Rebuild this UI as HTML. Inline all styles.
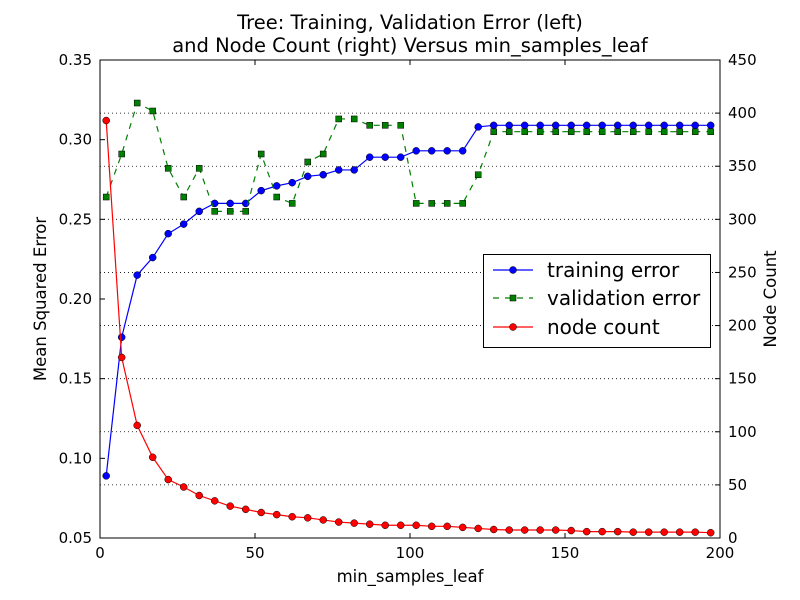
<!DOCTYPE html>
<html><head><meta charset="utf-8"><style>
body{margin:0;background:#fff}
svg{display:block;font-family:"DejaVu Sans","Liberation Sans",sans-serif}
</style></head><body>
<svg id="chart" width="800" height="600">
<rect width="800" height="600" fill="#fff"/>
<g id="grid"></g><g id="series"></g><g id="axes"></g>
</svg>
<script>
const xs = [2,7,12,17,22,27,32,37,42,47,52,57,62,67,72,77,82,87,92,97,102,107,112,117,122,127,132,137,142,147,152,157,162,167,172,177,182,187,192,197];
const trainErr = [0.089,0.176,0.215,0.226,0.241,0.247,0.255,0.260,0.260,0.260,0.268,0.271,0.273,0.277,0.278,0.281,0.281,0.289,0.289,0.289,0.293,0.293,0.293,0.293,0.308,0.309,0.309,0.309,0.309,0.309,0.309,0.309,0.309,0.309,0.309,0.309,0.309,0.309,0.309,0.309];
const valErr = [0.264,0.291,0.323,0.318,0.282,0.264,0.282,0.255,0.255,0.255,0.291,0.264,0.260,0.286,0.291,0.313,0.313,0.309,0.309,0.309,0.260,0.260,0.260,0.260,0.278,0.305,0.305,0.305,0.305,0.305,0.305,0.305,0.305,0.305,0.305,0.305,0.305,0.305,0.305,0.305];
const nodeCount = [393,170,106,76,55,48,40,35,30,27,24,22,20,19,17,15,14,13,12,12,12,11,11,10,9,8,7.5,7.5,7.5,7.5,7,6,6,6,5.5,5.5,5.5,5.5,5.5,5];
const xTicks = [0,50,100,150,200];
const yLeftTicks = [0.05,0.10,0.15,0.20,0.25,0.30,0.35];
const yRightTicks = [0,50,100,150,200,250,300,350,400,450];

const L=100,R=720,T=60,B=538;
const sx=v=>L+(v-0)/200*(R-L);
const syL=v=>B-(v-0.05)/0.3*(B-T);
const syR=v=>B-v/450*(B-T);
const NS="http://www.w3.org/2000/svg";
function mk(parent,tag,attrs,text){const e=document.createElementNS(NS,tag);for(const k in attrs)e.setAttribute(k,attrs[k]);if(text!==undefined)e.textContent=text;parent.appendChild(e);return e;}
const grid=document.getElementById('grid'),series=document.getElementById('series'),axes=document.getElementById('axes');

yRightTicks.forEach(t=>{if(t===0||t===450)return;const l=mk(grid,'line',{x1:L,x2:R,y1:syR(t),y2:syR(t),stroke:'#000','stroke-dasharray':'1,3','stroke-width':0.8});

});

function drawSeries(vals,sy,color,dash,marker,name){
  const g=mk(series,'g',{});
  
  
  const pts=vals.map((v,i)=>sx(xs[i])+','+sy(v)).join(' ');
  mk(g,'polyline',{points:pts,fill:'none',stroke:color,'stroke-width':1.2,'stroke-dasharray':dash});
  vals.forEach((v,i)=>{let m;
    if(marker==='s'){m=mk(g,'rect',{x:sx(xs[i])-3,y:sy(v)-3,width:6,height:6,fill:color,stroke:'#000','stroke-width':0.5});}
    else{m=mk(g,'circle',{cx:sx(xs[i]),cy:sy(v),r:3.5,fill:color,stroke:'#000','stroke-width':0.5});}
    
    
  });
}
drawSeries(trainErr,syL,'#0000ff','','o','training-error-series');
drawSeries(valErr,syL,'#008000','6,6','s','validation-error-series');
drawSeries(nodeCount,syR,'#ff0000','','o','node-count-series');

mk(axes,'rect',{x:L,y:T,width:R-L,height:B-T,fill:'none',stroke:'#000','stroke-width':1});
xTicks.forEach(t=>{const x=sx(t);mk(axes,'line',{x1:x,x2:x,y1:B,y2:B-5,stroke:'#000'});mk(axes,'line',{x1:x,x2:x,y1:T,y2:T+5,stroke:'#000'});
const tx=mk(axes,'text',{x:x,y:B+20,'text-anchor':'middle','font-size':15},String(t));

});
yLeftTicks.forEach(t=>{const y=syL(t);mk(axes,'line',{x1:L,x2:L+5,y1:y,y2:y,stroke:'#000'});
const tx=mk(axes,'text',{x:L-8,y:y+5,'text-anchor':'end','font-size':15},t.toFixed(2));

});
yRightTicks.forEach(t=>{const y=syR(t);mk(axes,'line',{x1:R,x2:R-5,y1:y,y2:y,stroke:'#000'});
const tx=mk(axes,'text',{x:R+8,y:y+5,'text-anchor':'start','font-size':15},String(t));

});
</script>
<svg style="position:absolute;left:0;top:0" width="800" height="600">
<text x="410" y="29" text-anchor="middle" font-size="19.5">Tree: Training, Validation Error (left)</text>
<text x="410" y="52" text-anchor="middle" font-size="19.5">and Node Count (right) Versus min_samples_leaf</text>
<text x="410" y="582" text-anchor="middle" font-size="16.5">min_samples_leaf</text>
<text transform="translate(46,299) rotate(-90)" text-anchor="middle" font-size="16.5">Mean Squared Error</text>
<text transform="translate(776,299) rotate(-90)" text-anchor="middle" font-size="16.5">Node Count</text>
<g>
<rect x="483.5" y="254.5" width="227" height="93" fill="#fff" stroke="#000"/>
<g><line x1="493" x2="533" y1="270" y2="270" stroke="#0000ff" stroke-width="1.2"/><circle cx="513" cy="270" r="3.5" fill="#0000ff" stroke="#000" stroke-width="0.5"/><text x="547" y="277" font-size="20">training error</text></g>
<g><line x1="493" x2="533" y1="298" y2="298" stroke="#008000" stroke-width="1.2" stroke-dasharray="6,6"/><rect x="510" y="295" width="6" height="6" fill="#008000" stroke="#000" stroke-width="0.5"/><text x="547" y="305" font-size="20">validation error</text></g>
<g><line x1="493" x2="533" y1="327" y2="327" stroke="#ff0000" stroke-width="1.2"/><circle cx="513" cy="327" r="3.5" fill="#ff0000" stroke="#000" stroke-width="0.5"/><text x="547" y="334" font-size="20">node count</text></g>
</g>
</svg>
</body></html>
